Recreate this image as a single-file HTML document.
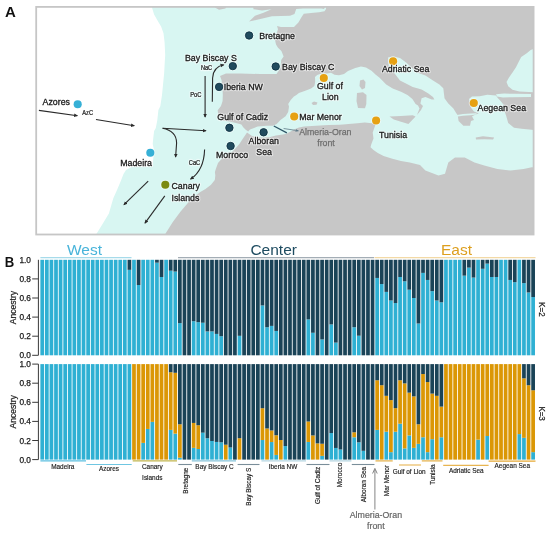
<!DOCTYPE html>
<html><head><meta charset="utf-8"><style>
html,body{margin:0;padding:0;background:#fff;width:550px;height:533px;overflow:hidden}
svg{display:block;font-family:"Liberation Sans", sans-serif;will-change:transform}
</style></head><body>
<svg width="550" height="533" viewBox="0 0 550 533">
<defs>
<marker id="ah" markerWidth="6" markerHeight="6" refX="3.2" refY="3" orient="auto" markerUnits="userSpaceOnUse"><path d="M0,1.2 L4,3 L0,4.8 Z" fill="#2a2a2a"/></marker>
<marker id="ah2" markerWidth="6" markerHeight="6" refX="2.8" refY="3" orient="auto" markerUnits="userSpaceOnUse"><path d="M0,1.5 L3.3,3 L0,4.5 Z" fill="#5e7a88"/></marker>
</defs>
<rect width="550" height="533" fill="#fff"/>
<text x="4.9" y="17.4" font-size="15" font-weight="bold" fill="#111">A</text>
<text transform="translate(4.7 266.6) scale(0.87 1)" font-size="15.1" font-weight="bold" fill="#111">B</text>
<clipPath id="mc"><rect x="36.2" y="7" width="497.4" height="227.5"/></clipPath>
<g clip-path="url(#mc)">
<rect x="35" y="6" width="501" height="230" fill="#fff"/>
<polygon points="151.5,6 154.1,14.4 157.8,21 161.1,26.6 163.5,33.2 164.6,42.6 165.2,55 164.8,61.3 164.2,72.5 163.1,83.8 162,95 160.3,106.3 158.4,110 157.3,120.3 155.8,128 154.1,131 153.1,139.4 152.7,144.1 154,150 153.5,156 152.5,166.5 132,166.8 126,170 123.5,174 120.8,181 117,190 113.3,198.3 108.9,213.5 102.4,224.3 97,233 95,236 536,236 536,6" fill="#d8f6f2"/>
<polygon points="326,6 536,6 536,130 529.2,129.6 521.6,128.7 514,127.7 508.2,123 506.3,116.3 504.4,110.5 504.4,105.8 500.6,101 497.7,98 496,95.5 487.3,94.8 479.6,96.2 472,96.5 469,99 470,103 471,107.7 474,111.5 478.7,113.4 475.8,114.4 472,116.3 474,120 471,121 470,125.8 463.4,125.8 458.6,121 457.7,115.3 455.8,112.4 453.4,108.5 448.3,103.4 444.5,98.3 443.9,93.3 443.3,88.2 439.4,84.4 433,80.5 425.4,75.4 416.5,72.3 406.4,62.7 400,58 393,56.5 388,57.5 388.6,65.5 395,74 400,80.5 405,83 412.7,86.9 421.6,89.4 428,93.3 433,97 434.4,99.6 431.8,99.6 425.4,97 421.6,98.3 420.4,103.4 423,106 421,110 417,115 419.5,108.5 418,105.5 415.6,104 412.4,99.1 407.5,95 401,91.7 392.7,88.5 386.2,84.4 379.6,77.8 375.5,74.5 371.5,70.8 366,67.5 361,66.6 355.3,68 348,71 344,74 339,75.3 334.5,74.8 331,72.8 327,73.4 321.3,73.5 317.2,75.1 315,77 315.2,81.8 314.4,85.9 311.1,88.4 304.6,90.9 298.9,92.9 296.4,95 293.9,96.6 290.7,99.9 288.2,104 289,106.4 288.2,112 285.6,116.3 280.5,120.1 276.7,123.9 272.9,125.8 266.5,125.8 257.6,126.5 250,129.5 248.2,131.5 246,130 243.2,127.3 241.4,124.5 235,122.7 227.7,121.2 222,120.5 218.5,116 217.7,110.2 221,106 222.6,101 222.8,95 222.5,88 221.5,80 220,76 226,73.5 240,73.5 260,74 276.5,74 280.5,68 281.2,60 283.6,56.4 281.4,51 278,47.7 276,44.4 275,40 276,35 278,29.2 277,25.9 280.9,26.9 294,26.9 298.4,22.5 301.6,17 303.8,13.8 313.6,12.7 319,12.2 324.5,11.3 326,9 326,6" fill="#c7c7c7"/>
<polygon points="249.1,21.6 261.4,18.8 272,16.3 290,15.8 294.5,14 296.2,8.9 302.7,8.4 321.3,8.4 324,9 325.5,6 253,6 253.5,9.2 262,10.6 271.5,9.3 263.5,12.8 255,15.8" fill="#c7c7c7"/>
<polygon points="214,6 215,7.5 219,9.7 225.4,8.5 227,6" fill="#c7c7c7"/>
<polygon points="164,236 172.8,221.9 180.4,211.7 190,200.4 196,195.2 200.3,192.1 205.5,189 211,184.8 214.8,180 215.3,175.6 214.9,172 216,168.4 218,163.1 221.3,159.2 228,155 233,151 237,146.7 239.7,143.4 242.3,139.5 245,135.5 247,132.6 252,136 258,137.5 264,137.6 270,137 276,135.5 283,134.5 286.9,133.4 290.7,131.5 294.5,129.3 299,127.5 304,126.5 312,126 320,125.6 328.6,125 340,124.7 348.7,123.9 357.5,123.2 364.7,122.5 372,123.2 375.6,124.6 374.2,128.3 372.7,132.6 373.5,138.5 371.3,144.3 370.5,147.2 373.5,150 377.8,153 383.6,155.9 392.4,158.8 401,161 409.8,162.5 420,165 425.4,170.5 438.5,175.4 445,173.8 448.3,162.4 455,157.4 464.7,157.4 474.5,162.4 484.3,165.6 497.4,169 510.5,170.5 523.6,169 531.8,167.3 536,167 536,236" fill="#c7c7c7"/>
<polygon points="536,48 530.7,50 526.4,53.5 521.2,56.9 518.6,62.1 516,67.3 512.5,72.5 509,77.6 506.5,82 508.2,86.3 512.5,89.7 519.4,91.5 536,92.3" fill="#d8f6f2"/>
<polygon points="496,94.2 504,93.6 515,93.8 531,94 531,97 512,97.2 503,97.5 497,96.5" fill="#d8f6f2"/>
<polygon points="455.5,115.2 463,114 471,113.6 476.5,113.2 476.5,114.6 470,115.3 463,115.8 456,116.8" fill="#d8f6f2"/>
<polygon points="360,80.5 363.5,79.5 365.5,82 365,88 362,89.5 359.5,86" fill="#c7c7c7"/>
<polygon points="357,93 363,92.2 366.5,95 366.3,104 365,108.3 358,108 356.5,101" fill="#c7c7c7"/>
<polygon points="389.5,116.6 401,116 412.7,115.2 415.6,116.6 411.3,121 408.4,123.9 401,121.7 393.8,119.5" fill="#c7c7c7"/>
<polygon points="311.5,103 314,101.5 317.5,102.5 316.5,104.8 313,105" fill="#c7c7c7"/>
<polygon points="475.7,137.5 483,136.3 494.2,137.5 493,139.6 484,139.2 476,139.5" fill="#c7c7c7"/>
</g>
<rect x="36.2" y="6.9" width="497.4" height="227.6" fill="none" stroke="#c6c6c6" stroke-width="1.8"/>
<g stroke="#2a2a2a" stroke-width="1.1" fill="none">
<line x1="38.9" y1="110.4" x2="77.3" y2="115.7" marker-end="url(#ah)"/>
<line x1="96" y1="119.5" x2="134.2" y2="125.7" marker-end="url(#ah)"/>
<line x1="162.6" y1="128.2" x2="205.9" y2="130.8" marker-end="url(#ah)"/>
<line x1="148.2" y1="181.2" x2="124" y2="204.6" marker-end="url(#ah)"/>
<line x1="164.8" y1="195.9" x2="145" y2="223.1" marker-end="url(#ah)"/>
<line x1="205.1" y1="76" x2="205.1" y2="117" marker-end="url(#ah)"/>
<path d="M212.3,101.7 L212.6,78 Q213.2,67 223.7,64.8" marker-end="url(#ah)"/>
<path d="M162.6,128.2 Q176.6,131 176.6,143 L175.6,157" marker-end="url(#ah)"/>
<path d="M204.6,149.4 Q204,170 190.6,179.1" marker-end="url(#ah)"/>
</g>
<line x1="273.8" y1="126" x2="286.9" y2="132.9" stroke="#2e5566" stroke-width="1.3"/>
<line x1="283.6" y1="128.5" x2="298.4" y2="130.8" stroke="#5e7a88" stroke-width="0.8" marker-end="url(#ah2)"/>
<circle cx="77.7" cy="104.2" r="5.1" fill="#fff" fill-opacity="0.45"/>
<circle cx="77.7" cy="104.2" r="4.05" fill="#36b0d6"/>
<circle cx="150.3" cy="152.7" r="5.1" fill="#fff" fill-opacity="0.45"/>
<circle cx="150.3" cy="152.7" r="4.05" fill="#36b0d6"/>
<circle cx="165.3" cy="184.8" r="5.1" fill="#fff" fill-opacity="0.45"/>
<circle cx="165.3" cy="184.8" r="4.05" fill="#7c8a12"/>
<circle cx="249.1" cy="35.5" r="5.1" fill="#fff" fill-opacity="0.45"/>
<circle cx="249.1" cy="35.5" r="3.7" fill="#214b5e" stroke="#0f3344" stroke-width="0.9"/>
<circle cx="232.8" cy="66.1" r="5.1" fill="#fff" fill-opacity="0.45"/>
<circle cx="232.8" cy="66.1" r="3.7" fill="#214b5e" stroke="#0f3344" stroke-width="0.9"/>
<circle cx="275.7" cy="66.5" r="5.1" fill="#fff" fill-opacity="0.45"/>
<circle cx="275.7" cy="66.5" r="3.7" fill="#214b5e" stroke="#0f3344" stroke-width="0.9"/>
<circle cx="219.1" cy="86.9" r="5.1" fill="#fff" fill-opacity="0.45"/>
<circle cx="219.1" cy="86.9" r="3.7" fill="#214b5e" stroke="#0f3344" stroke-width="0.9"/>
<circle cx="229.4" cy="127.8" r="5.1" fill="#fff" fill-opacity="0.45"/>
<circle cx="229.4" cy="127.8" r="3.7" fill="#214b5e" stroke="#0f3344" stroke-width="0.9"/>
<circle cx="230.6" cy="146.0" r="5.1" fill="#fff" fill-opacity="0.45"/>
<circle cx="230.6" cy="146.0" r="3.7" fill="#214b5e" stroke="#0f3344" stroke-width="0.9"/>
<circle cx="263.6" cy="132.3" r="5.1" fill="#fff" fill-opacity="0.45"/>
<circle cx="263.6" cy="132.3" r="3.7" fill="#214b5e" stroke="#0f3344" stroke-width="0.9"/>
<circle cx="294.2" cy="116.5" r="5.1" fill="#fff" fill-opacity="0.45"/>
<circle cx="294.2" cy="116.5" r="4.05" fill="#e6a112"/>
<circle cx="323.8" cy="78.0" r="5.1" fill="#fff" fill-opacity="0.45"/>
<circle cx="323.8" cy="78.0" r="4.05" fill="#e6a112"/>
<circle cx="393.1" cy="61.3" r="5.1" fill="#fff" fill-opacity="0.45"/>
<circle cx="393.1" cy="61.3" r="4.05" fill="#e6a112"/>
<circle cx="376.1" cy="120.5" r="5.1" fill="#fff" fill-opacity="0.45"/>
<circle cx="376.1" cy="120.5" r="4.05" fill="#e6a112"/>
<circle cx="473.8" cy="103.0" r="5.1" fill="#fff" fill-opacity="0.45"/>
<circle cx="473.8" cy="103.0" r="4.05" fill="#e6a112"/>
<text x="42.6" y="104.9" font-size="8.8" fill="none" stroke="#fff" stroke-opacity="0.5" stroke-linejoin="round" stroke-width="2.6">Azores</text>
<text x="42.6" y="104.9" font-size="8.8" fill="#1a1a1a" stroke="#1a1a1a" stroke-width="0.3">Azores</text>
<text x="82.3" y="115.2" font-size="6.5" textLength="10.8" lengthAdjust="spacingAndGlyphs" fill="none" stroke="#fff" stroke-opacity="0.5" stroke-linejoin="round" stroke-width="2.6">AzC</text>
<text x="82.3" y="115.2" font-size="6.5" textLength="10.8" lengthAdjust="spacingAndGlyphs" fill="#1a1a1a" stroke="#1a1a1a" stroke-width="0.22">AzC</text>
<text x="120.2" y="165.8" font-size="8.8" fill="none" stroke="#fff" stroke-opacity="0.5" stroke-linejoin="round" stroke-width="2.6">Madeira</text>
<text x="120.2" y="165.8" font-size="8.8" fill="#1a1a1a" stroke="#1a1a1a" stroke-width="0.3">Madeira</text>
<text x="171.5" y="188.8" font-size="8.8" fill="none" stroke="#fff" stroke-opacity="0.5" stroke-linejoin="round" stroke-width="2.6">Canary</text>
<text x="171.5" y="188.8" font-size="8.8" fill="#1a1a1a" stroke="#1a1a1a" stroke-width="0.3">Canary</text>
<text x="171.5" y="201.0" font-size="8.8" fill="none" stroke="#fff" stroke-opacity="0.5" stroke-linejoin="round" stroke-width="2.6">Islands</text>
<text x="171.5" y="201.0" font-size="8.8" fill="#1a1a1a" stroke="#1a1a1a" stroke-width="0.3">Islands</text>
<text x="188.8" y="164.6" font-size="6.5" textLength="11.4" lengthAdjust="spacingAndGlyphs" fill="none" stroke="#fff" stroke-opacity="0.5" stroke-linejoin="round" stroke-width="2.6">CaC</text>
<text x="188.8" y="164.6" font-size="6.5" textLength="11.4" lengthAdjust="spacingAndGlyphs" fill="#1a1a1a" stroke="#1a1a1a" stroke-width="0.22">CaC</text>
<text x="185.0" y="61.0" font-size="8.8" fill="none" stroke="#fff" stroke-opacity="0.5" stroke-linejoin="round" stroke-width="2.6">Bay Biscay S</text>
<text x="185.0" y="61.0" font-size="8.8" fill="#1a1a1a" stroke="#1a1a1a" stroke-width="0.3">Bay Biscay S</text>
<text x="200.9" y="70.1" font-size="6.5" textLength="11.3" lengthAdjust="spacingAndGlyphs" fill="none" stroke="#fff" stroke-opacity="0.5" stroke-linejoin="round" stroke-width="2.6">NaC</text>
<text x="200.9" y="70.1" font-size="6.5" textLength="11.3" lengthAdjust="spacingAndGlyphs" fill="#1a1a1a" stroke="#1a1a1a" stroke-width="0.22">NaC</text>
<text x="190.2" y="97.2" font-size="6.5" textLength="11.3" lengthAdjust="spacingAndGlyphs" fill="none" stroke="#fff" stroke-opacity="0.5" stroke-linejoin="round" stroke-width="2.6">PoC</text>
<text x="190.2" y="97.2" font-size="6.5" textLength="11.3" lengthAdjust="spacingAndGlyphs" fill="#1a1a1a" stroke="#1a1a1a" stroke-width="0.22">PoC</text>
<text x="223.7" y="90.2" font-size="8.8" fill="none" stroke="#fff" stroke-opacity="0.5" stroke-linejoin="round" stroke-width="2.6">Iberia NW</text>
<text x="223.7" y="90.2" font-size="8.8" fill="#1a1a1a" stroke="#1a1a1a" stroke-width="0.3">Iberia NW</text>
<text x="217.3" y="119.5" font-size="8.8" fill="none" stroke="#fff" stroke-opacity="0.5" stroke-linejoin="round" stroke-width="2.6">Gulf of Cadiz</text>
<text x="217.3" y="119.5" font-size="8.8" fill="#1a1a1a" stroke="#1a1a1a" stroke-width="0.3">Gulf of Cadiz</text>
<text x="216.0" y="157.7" font-size="8.8" fill="none" stroke="#fff" stroke-opacity="0.5" stroke-linejoin="round" stroke-width="2.6">Morroco</text>
<text x="216.0" y="157.7" font-size="8.8" fill="#1a1a1a" stroke="#1a1a1a" stroke-width="0.3">Morroco</text>
<text x="248.6" y="143.7" font-size="8.8" fill="none" stroke="#fff" stroke-opacity="0.5" stroke-linejoin="round" stroke-width="2.6">Alboran</text>
<text x="248.6" y="143.7" font-size="8.8" fill="#1a1a1a" stroke="#1a1a1a" stroke-width="0.3">Alboran</text>
<text x="256.3" y="155.2" font-size="8.8" fill="none" stroke="#fff" stroke-opacity="0.5" stroke-linejoin="round" stroke-width="2.6">Sea</text>
<text x="256.3" y="155.2" font-size="8.8" fill="#1a1a1a" stroke="#1a1a1a" stroke-width="0.3">Sea</text>
<text x="259.3" y="38.8" font-size="8.8" fill="none" stroke="#fff" stroke-opacity="0.5" stroke-linejoin="round" stroke-width="2.6">Bretagne</text>
<text x="259.3" y="38.8" font-size="8.8" fill="#1a1a1a" stroke="#1a1a1a" stroke-width="0.3">Bretagne</text>
<text x="282.1" y="69.9" font-size="8.8" fill="none" stroke="#fff" stroke-opacity="0.5" stroke-linejoin="round" stroke-width="2.6">Bay Biscay C</text>
<text x="282.1" y="69.9" font-size="8.8" fill="#1a1a1a" stroke="#1a1a1a" stroke-width="0.3">Bay Biscay C</text>
<text x="317.0" y="89.2" font-size="8.8" fill="none" stroke="#fff" stroke-opacity="0.5" stroke-linejoin="round" stroke-width="2.6">Gulf of</text>
<text x="317.0" y="89.2" font-size="8.8" fill="#1a1a1a" stroke="#1a1a1a" stroke-width="0.3">Gulf of</text>
<text x="322.0" y="99.9" font-size="8.8" fill="none" stroke="#fff" stroke-opacity="0.5" stroke-linejoin="round" stroke-width="2.6">Lion</text>
<text x="322.0" y="99.9" font-size="8.8" fill="#1a1a1a" stroke="#1a1a1a" stroke-width="0.3">Lion</text>
<text x="299.2" y="119.8" font-size="8.8" fill="none" stroke="#fff" stroke-opacity="0.5" stroke-linejoin="round" stroke-width="2.6">Mar Menor</text>
<text x="299.2" y="119.8" font-size="8.8" fill="#1a1a1a" stroke="#1a1a1a" stroke-width="0.3">Mar Menor</text>
<text x="381.9" y="71.9" font-size="8.8" fill="none" stroke="#fff" stroke-opacity="0.5" stroke-linejoin="round" stroke-width="2.6">Adriatic Sea</text>
<text x="381.9" y="71.9" font-size="8.8" fill="#1a1a1a" stroke="#1a1a1a" stroke-width="0.3">Adriatic Sea</text>
<text x="379.0" y="137.8" font-size="8.8" fill="none" stroke="#fff" stroke-opacity="0.5" stroke-linejoin="round" stroke-width="2.6">Tunisia</text>
<text x="379.0" y="137.8" font-size="8.8" fill="#1a1a1a" stroke="#1a1a1a" stroke-width="0.3">Tunisia</text>
<text x="477.6" y="110.6" font-size="8.8" fill="none" stroke="#fff" stroke-opacity="0.5" stroke-linejoin="round" stroke-width="2.6">Aegean Sea</text>
<text x="477.6" y="110.6" font-size="8.8" fill="#1a1a1a" stroke="#1a1a1a" stroke-width="0.3">Aegean Sea</text>
<text x="299.2" y="134.6" font-size="8.8" fill="#6e6e6e" stroke="#6e6e6e" stroke-width="0.25">Almeria-Oran</text>
<text x="326" y="145.5" text-anchor="middle" font-size="8.8" fill="#6e6e6e" stroke="#6e6e6e" stroke-width="0.25">front</text>
<text x="84.5" y="254.6" text-anchor="middle" font-size="15.5" fill="#48b4da">West</text>
<text x="273.7" y="254.6" text-anchor="middle" font-size="15.5" fill="#1d4b60">Center</text>
<text x="456.5" y="254.6" text-anchor="middle" font-size="15.5" fill="#dd9f1e">East</text>
<line x1="40.4" y1="257.7" x2="131.5" y2="257.7" stroke="#a6dbea" stroke-width="1.2"/>
<line x1="178" y1="257.7" x2="374" y2="257.7" stroke="#a3adb5" stroke-width="1.2"/>
<line x1="374.5" y1="257.7" x2="535.5" y2="257.7" stroke="#f2d9a6" stroke-width="1.2"/>
<rect x="40.38" y="259.8" width="3.72" height="95.5" fill="#2fb0d3"/>
<rect x="40.38" y="364.1" width="3.72" height="95.5" fill="#2fb0d3"/>
<rect x="44.97" y="259.8" width="3.72" height="95.5" fill="#2fb0d3"/>
<rect x="44.97" y="364.1" width="3.72" height="95.5" fill="#2fb0d3"/>
<rect x="49.56" y="259.8" width="3.72" height="95.5" fill="#2fb0d3"/>
<rect x="49.56" y="364.1" width="3.72" height="95.5" fill="#2fb0d3"/>
<rect x="54.14" y="259.8" width="3.72" height="95.5" fill="#2fb0d3"/>
<rect x="54.14" y="364.1" width="3.72" height="95.5" fill="#2fb0d3"/>
<rect x="58.73" y="259.8" width="3.72" height="95.5" fill="#2fb0d3"/>
<rect x="58.73" y="364.1" width="3.72" height="95.5" fill="#2fb0d3"/>
<rect x="63.32" y="259.8" width="3.72" height="95.5" fill="#2fb0d3"/>
<rect x="63.32" y="364.1" width="3.72" height="95.5" fill="#2fb0d3"/>
<rect x="67.91" y="259.8" width="3.72" height="95.5" fill="#2fb0d3"/>
<rect x="67.91" y="364.1" width="3.72" height="95.5" fill="#2fb0d3"/>
<rect x="72.49" y="259.8" width="3.72" height="95.5" fill="#2fb0d3"/>
<rect x="72.49" y="364.1" width="3.72" height="95.5" fill="#2fb0d3"/>
<rect x="77.08" y="259.8" width="3.72" height="95.5" fill="#2fb0d3"/>
<rect x="77.08" y="364.1" width="3.72" height="95.5" fill="#2fb0d3"/>
<rect x="81.67" y="259.8" width="3.72" height="95.5" fill="#2fb0d3"/>
<rect x="81.67" y="364.1" width="3.72" height="95.5" fill="#2fb0d3"/>
<rect x="86.26" y="259.8" width="3.72" height="95.5" fill="#2fb0d3"/>
<rect x="86.26" y="364.1" width="3.72" height="95.5" fill="#2fb0d3"/>
<rect x="90.84" y="259.8" width="3.72" height="95.5" fill="#2fb0d3"/>
<rect x="90.84" y="364.1" width="3.72" height="95.5" fill="#2fb0d3"/>
<rect x="95.43" y="259.8" width="3.72" height="95.5" fill="#2fb0d3"/>
<rect x="95.43" y="364.1" width="3.72" height="95.5" fill="#2fb0d3"/>
<rect x="100.02" y="259.8" width="3.72" height="95.5" fill="#2fb0d3"/>
<rect x="100.02" y="364.1" width="3.72" height="95.5" fill="#2fb0d3"/>
<rect x="104.61" y="259.8" width="3.72" height="95.5" fill="#2fb0d3"/>
<rect x="104.61" y="364.1" width="3.72" height="95.5" fill="#2fb0d3"/>
<rect x="109.2" y="259.8" width="3.72" height="95.5" fill="#2fb0d3"/>
<rect x="109.2" y="364.1" width="3.72" height="95.5" fill="#2fb0d3"/>
<rect x="113.78" y="259.8" width="3.72" height="95.5" fill="#2fb0d3"/>
<rect x="113.78" y="364.1" width="3.72" height="95.5" fill="#2fb0d3"/>
<rect x="118.37" y="259.8" width="3.72" height="95.5" fill="#2fb0d3"/>
<rect x="118.37" y="364.1" width="3.72" height="95.5" fill="#2fb0d3"/>
<rect x="122.96" y="259.8" width="3.72" height="95.5" fill="#2fb0d3"/>
<rect x="122.96" y="364.1" width="3.72" height="95.5" fill="#2fb0d3"/>
<rect x="127.55" y="269.83" width="3.72" height="85.47" fill="#2fb0d3"/>
<rect x="127.55" y="259.8" width="3.72" height="10.03" fill="#1a4357"/>
<rect x="127.55" y="364.1" width="3.72" height="95.5" fill="#2fb0d3"/>
<rect x="132.13" y="259.8" width="3.72" height="95.5" fill="#2fb0d3"/>
<rect x="132.13" y="364.1" width="3.72" height="95.5" fill="#db9705"/>
<rect x="136.72" y="285.01" width="3.72" height="70.29" fill="#2fb0d3"/>
<rect x="136.72" y="259.8" width="3.72" height="25.21" fill="#1a4357"/>
<rect x="136.72" y="364.1" width="3.72" height="95.5" fill="#db9705"/>
<rect x="141.31" y="259.8" width="3.72" height="95.5" fill="#2fb0d3"/>
<rect x="141.31" y="442.89" width="3.72" height="16.71" fill="#2fb0d3"/>
<rect x="141.31" y="364.1" width="3.72" height="78.79" fill="#db9705"/>
<rect x="145.9" y="259.8" width="3.72" height="95.5" fill="#2fb0d3"/>
<rect x="145.9" y="428.94" width="3.72" height="30.66" fill="#2fb0d3"/>
<rect x="145.9" y="364.1" width="3.72" height="64.84" fill="#db9705"/>
<rect x="150.48" y="259.8" width="3.72" height="95.5" fill="#2fb0d3"/>
<rect x="150.48" y="421.88" width="3.72" height="37.72" fill="#2fb0d3"/>
<rect x="150.48" y="364.1" width="3.72" height="57.78" fill="#db9705"/>
<rect x="155.07" y="262.67" width="3.72" height="92.63" fill="#2fb0d3"/>
<rect x="155.07" y="259.8" width="3.72" height="2.86" fill="#1a4357"/>
<rect x="155.07" y="364.1" width="3.72" height="95.5" fill="#db9705"/>
<rect x="159.66" y="276.99" width="3.72" height="78.31" fill="#2fb0d3"/>
<rect x="159.66" y="259.8" width="3.72" height="17.19" fill="#1a4357"/>
<rect x="159.66" y="364.1" width="3.72" height="95.5" fill="#db9705"/>
<rect x="164.25" y="259.8" width="3.72" height="95.5" fill="#2fb0d3"/>
<rect x="164.25" y="364.1" width="3.72" height="95.5" fill="#db9705"/>
<rect x="168.84" y="270.69" width="3.72" height="84.61" fill="#2fb0d3"/>
<rect x="168.84" y="259.8" width="3.72" height="10.89" fill="#1a4357"/>
<rect x="168.84" y="429.9" width="3.72" height="29.7" fill="#2fb0d3"/>
<rect x="168.84" y="372.22" width="3.72" height="57.68" fill="#db9705"/>
<rect x="168.84" y="364.1" width="3.72" height="8.12" fill="#1a4357"/>
<rect x="173.42" y="271.55" width="3.72" height="83.75" fill="#2fb0d3"/>
<rect x="173.42" y="259.8" width="3.72" height="11.75" fill="#1a4357"/>
<rect x="173.42" y="433.62" width="3.72" height="25.98" fill="#2fb0d3"/>
<rect x="173.42" y="372.79" width="3.72" height="60.83" fill="#db9705"/>
<rect x="173.42" y="364.1" width="3.72" height="8.69" fill="#1a4357"/>
<rect x="178.01" y="323.12" width="3.72" height="32.18" fill="#2fb0d3"/>
<rect x="178.01" y="259.8" width="3.72" height="63.32" fill="#1a4357"/>
<rect x="178.01" y="457.69" width="3.72" height="1.91" fill="#2fb0d3"/>
<rect x="178.01" y="424.27" width="3.72" height="33.42" fill="#db9705"/>
<rect x="178.01" y="364.1" width="3.72" height="60.16" fill="#1a4357"/>
<rect x="182.6" y="259.8" width="3.72" height="95.5" fill="#1a4357"/>
<rect x="182.6" y="364.1" width="3.72" height="95.5" fill="#1a4357"/>
<rect x="187.19" y="259.8" width="3.72" height="95.5" fill="#1a4357"/>
<rect x="187.19" y="364.1" width="3.72" height="95.5" fill="#1a4357"/>
<rect x="191.77" y="321.21" width="3.72" height="34.09" fill="#2fb0d3"/>
<rect x="191.77" y="259.8" width="3.72" height="61.41" fill="#1a4357"/>
<rect x="191.77" y="447.85" width="3.72" height="11.75" fill="#2fb0d3"/>
<rect x="191.77" y="422.93" width="3.72" height="24.93" fill="#db9705"/>
<rect x="191.77" y="364.1" width="3.72" height="58.83" fill="#1a4357"/>
<rect x="196.36" y="322.16" width="3.72" height="33.14" fill="#2fb0d3"/>
<rect x="196.36" y="259.8" width="3.72" height="62.36" fill="#1a4357"/>
<rect x="196.36" y="449" width="3.72" height="10.6" fill="#2fb0d3"/>
<rect x="196.36" y="425.22" width="3.72" height="23.78" fill="#db9705"/>
<rect x="196.36" y="364.1" width="3.72" height="61.12" fill="#1a4357"/>
<rect x="200.95" y="322.73" width="3.72" height="32.57" fill="#2fb0d3"/>
<rect x="200.95" y="259.8" width="3.72" height="62.93" fill="#1a4357"/>
<rect x="200.95" y="432.67" width="3.72" height="26.93" fill="#2fb0d3"/>
<rect x="200.95" y="364.1" width="3.72" height="68.57" fill="#1a4357"/>
<rect x="205.54" y="331.43" width="3.72" height="23.88" fill="#2fb0d3"/>
<rect x="205.54" y="259.8" width="3.72" height="71.62" fill="#1a4357"/>
<rect x="205.54" y="438.21" width="3.72" height="21.39" fill="#2fb0d3"/>
<rect x="205.54" y="364.1" width="3.72" height="74.11" fill="#1a4357"/>
<rect x="210.12" y="331.43" width="3.72" height="23.88" fill="#2fb0d3"/>
<rect x="210.12" y="259.8" width="3.72" height="71.62" fill="#1a4357"/>
<rect x="210.12" y="440.98" width="3.72" height="18.62" fill="#2fb0d3"/>
<rect x="210.12" y="364.1" width="3.72" height="76.88" fill="#1a4357"/>
<rect x="214.71" y="333.91" width="3.72" height="21.39" fill="#2fb0d3"/>
<rect x="214.71" y="259.8" width="3.72" height="74.11" fill="#1a4357"/>
<rect x="214.71" y="441.93" width="3.72" height="17.67" fill="#2fb0d3"/>
<rect x="214.71" y="364.1" width="3.72" height="77.83" fill="#1a4357"/>
<rect x="219.3" y="336.2" width="3.72" height="19.1" fill="#2fb0d3"/>
<rect x="219.3" y="259.8" width="3.72" height="76.4" fill="#1a4357"/>
<rect x="219.3" y="442.31" width="3.72" height="17.29" fill="#2fb0d3"/>
<rect x="219.3" y="364.1" width="3.72" height="78.21" fill="#1a4357"/>
<rect x="223.89" y="259.8" width="3.72" height="95.5" fill="#1a4357"/>
<rect x="223.89" y="444.7" width="3.72" height="14.9" fill="#db9705"/>
<rect x="223.89" y="364.1" width="3.72" height="80.6" fill="#1a4357"/>
<rect x="228.48" y="259.8" width="3.72" height="95.5" fill="#1a4357"/>
<rect x="228.48" y="447.47" width="3.72" height="12.13" fill="#2fb0d3"/>
<rect x="228.48" y="364.1" width="3.72" height="83.37" fill="#1a4357"/>
<rect x="233.06" y="259.8" width="3.72" height="95.5" fill="#1a4357"/>
<rect x="233.06" y="364.1" width="3.72" height="95.5" fill="#1a4357"/>
<rect x="237.65" y="335.82" width="3.72" height="19.48" fill="#2fb0d3"/>
<rect x="237.65" y="259.8" width="3.72" height="76.02" fill="#1a4357"/>
<rect x="237.65" y="438.21" width="3.72" height="21.39" fill="#db9705"/>
<rect x="237.65" y="364.1" width="3.72" height="74.11" fill="#1a4357"/>
<rect x="242.24" y="259.8" width="3.72" height="95.5" fill="#1a4357"/>
<rect x="242.24" y="364.1" width="3.72" height="95.5" fill="#1a4357"/>
<rect x="246.83" y="259.8" width="3.72" height="95.5" fill="#1a4357"/>
<rect x="246.83" y="364.1" width="3.72" height="95.5" fill="#1a4357"/>
<rect x="251.41" y="259.8" width="3.72" height="95.5" fill="#1a4357"/>
<rect x="251.41" y="364.1" width="3.72" height="95.5" fill="#1a4357"/>
<rect x="256" y="259.8" width="3.72" height="95.5" fill="#1a4357"/>
<rect x="256" y="364.1" width="3.72" height="95.5" fill="#1a4357"/>
<rect x="260.59" y="305.45" width="3.72" height="49.85" fill="#2fb0d3"/>
<rect x="260.59" y="259.8" width="3.72" height="45.65" fill="#1a4357"/>
<rect x="260.59" y="440.02" width="3.72" height="19.58" fill="#2fb0d3"/>
<rect x="260.59" y="408.22" width="3.72" height="31.8" fill="#db9705"/>
<rect x="260.59" y="364.1" width="3.72" height="44.12" fill="#1a4357"/>
<rect x="265.18" y="327.22" width="3.72" height="28.08" fill="#2fb0d3"/>
<rect x="265.18" y="259.8" width="3.72" height="67.42" fill="#1a4357"/>
<rect x="265.18" y="428.47" width="3.72" height="31.13" fill="#db9705"/>
<rect x="265.18" y="364.1" width="3.72" height="64.37" fill="#1a4357"/>
<rect x="269.76" y="325.89" width="3.72" height="29.41" fill="#2fb0d3"/>
<rect x="269.76" y="259.8" width="3.72" height="66.09" fill="#1a4357"/>
<rect x="269.76" y="442.03" width="3.72" height="17.57" fill="#2fb0d3"/>
<rect x="269.76" y="430.47" width="3.72" height="11.56" fill="#db9705"/>
<rect x="269.76" y="364.1" width="3.72" height="66.37" fill="#1a4357"/>
<rect x="274.35" y="330.95" width="3.72" height="24.35" fill="#2fb0d3"/>
<rect x="274.35" y="259.8" width="3.72" height="71.15" fill="#1a4357"/>
<rect x="274.35" y="454.92" width="3.72" height="4.68" fill="#2fb0d3"/>
<rect x="274.35" y="435.25" width="3.72" height="19.67" fill="#db9705"/>
<rect x="274.35" y="364.1" width="3.72" height="71.15" fill="#1a4357"/>
<rect x="278.94" y="259.8" width="3.72" height="95.5" fill="#1a4357"/>
<rect x="278.94" y="440.02" width="3.72" height="19.58" fill="#db9705"/>
<rect x="278.94" y="364.1" width="3.72" height="75.92" fill="#1a4357"/>
<rect x="283.53" y="259.8" width="3.72" height="95.5" fill="#1a4357"/>
<rect x="283.53" y="446.04" width="3.72" height="13.56" fill="#2fb0d3"/>
<rect x="283.53" y="364.1" width="3.72" height="81.94" fill="#1a4357"/>
<rect x="288.12" y="259.8" width="3.72" height="95.5" fill="#1a4357"/>
<rect x="288.12" y="364.1" width="3.72" height="95.5" fill="#1a4357"/>
<rect x="292.7" y="259.8" width="3.72" height="95.5" fill="#1a4357"/>
<rect x="292.7" y="364.1" width="3.72" height="95.5" fill="#1a4357"/>
<rect x="297.29" y="259.8" width="3.72" height="95.5" fill="#1a4357"/>
<rect x="297.29" y="364.1" width="3.72" height="95.5" fill="#1a4357"/>
<rect x="301.88" y="259.8" width="3.72" height="95.5" fill="#1a4357"/>
<rect x="301.88" y="364.1" width="3.72" height="95.5" fill="#1a4357"/>
<rect x="306.47" y="319.39" width="3.72" height="35.91" fill="#2fb0d3"/>
<rect x="306.47" y="259.8" width="3.72" height="59.59" fill="#1a4357"/>
<rect x="306.47" y="441.93" width="3.72" height="17.67" fill="#2fb0d3"/>
<rect x="306.47" y="421.5" width="3.72" height="20.44" fill="#db9705"/>
<rect x="306.47" y="364.1" width="3.72" height="57.4" fill="#1a4357"/>
<rect x="311.05" y="332.76" width="3.72" height="22.54" fill="#2fb0d3"/>
<rect x="311.05" y="259.8" width="3.72" height="72.96" fill="#1a4357"/>
<rect x="311.05" y="435.44" width="3.72" height="24.16" fill="#db9705"/>
<rect x="311.05" y="364.1" width="3.72" height="71.34" fill="#1a4357"/>
<rect x="315.64" y="259.8" width="3.72" height="95.5" fill="#1a4357"/>
<rect x="315.64" y="443.37" width="3.72" height="16.24" fill="#db9705"/>
<rect x="315.64" y="364.1" width="3.72" height="79.27" fill="#1a4357"/>
<rect x="320.23" y="339.45" width="3.72" height="15.85" fill="#2fb0d3"/>
<rect x="320.23" y="259.8" width="3.72" height="79.65" fill="#1a4357"/>
<rect x="320.23" y="455.88" width="3.72" height="3.72" fill="#2fb0d3"/>
<rect x="320.23" y="443.75" width="3.72" height="12.13" fill="#db9705"/>
<rect x="320.23" y="364.1" width="3.72" height="79.65" fill="#1a4357"/>
<rect x="324.82" y="259.8" width="3.72" height="95.5" fill="#1a4357"/>
<rect x="324.82" y="364.1" width="3.72" height="95.5" fill="#1a4357"/>
<rect x="329.41" y="324.45" width="3.72" height="30.85" fill="#2fb0d3"/>
<rect x="329.41" y="259.8" width="3.72" height="64.65" fill="#1a4357"/>
<rect x="329.41" y="433.05" width="3.72" height="26.55" fill="#2fb0d3"/>
<rect x="329.41" y="364.1" width="3.72" height="68.95" fill="#1a4357"/>
<rect x="333.99" y="342.6" width="3.72" height="12.7" fill="#2fb0d3"/>
<rect x="333.99" y="259.8" width="3.72" height="82.8" fill="#1a4357"/>
<rect x="333.99" y="447.95" width="3.72" height="11.65" fill="#2fb0d3"/>
<rect x="333.99" y="364.1" width="3.72" height="83.85" fill="#1a4357"/>
<rect x="338.58" y="259.8" width="3.72" height="95.5" fill="#1a4357"/>
<rect x="338.58" y="449.48" width="3.72" height="10.12" fill="#2fb0d3"/>
<rect x="338.58" y="364.1" width="3.72" height="85.38" fill="#1a4357"/>
<rect x="343.17" y="259.8" width="3.72" height="95.5" fill="#1a4357"/>
<rect x="343.17" y="364.1" width="3.72" height="95.5" fill="#1a4357"/>
<rect x="347.76" y="259.8" width="3.72" height="95.5" fill="#1a4357"/>
<rect x="347.76" y="364.1" width="3.72" height="95.5" fill="#1a4357"/>
<rect x="352.34" y="327.22" width="3.72" height="28.08" fill="#2fb0d3"/>
<rect x="352.34" y="259.8" width="3.72" height="67.42" fill="#1a4357"/>
<rect x="352.34" y="437.25" width="3.72" height="22.35" fill="#2fb0d3"/>
<rect x="352.34" y="432.29" width="3.72" height="4.97" fill="#db9705"/>
<rect x="352.34" y="364.1" width="3.72" height="68.19" fill="#1a4357"/>
<rect x="356.93" y="335.72" width="3.72" height="19.58" fill="#2fb0d3"/>
<rect x="356.93" y="259.8" width="3.72" height="75.92" fill="#1a4357"/>
<rect x="356.93" y="442.31" width="3.72" height="17.29" fill="#2fb0d3"/>
<rect x="356.93" y="364.1" width="3.72" height="78.21" fill="#1a4357"/>
<rect x="361.52" y="259.8" width="3.72" height="95.5" fill="#1a4357"/>
<rect x="361.52" y="450.81" width="3.72" height="8.79" fill="#2fb0d3"/>
<rect x="361.52" y="364.1" width="3.72" height="86.71" fill="#1a4357"/>
<rect x="366.11" y="259.8" width="3.72" height="95.5" fill="#1a4357"/>
<rect x="366.11" y="364.1" width="3.72" height="95.5" fill="#1a4357"/>
<rect x="370.69" y="259.8" width="3.72" height="95.5" fill="#1a4357"/>
<rect x="370.69" y="364.1" width="3.72" height="95.5" fill="#1a4357"/>
<rect x="375.28" y="277.94" width="3.72" height="77.36" fill="#2fb0d3"/>
<rect x="375.28" y="259.8" width="3.72" height="18.14" fill="#1a4357"/>
<rect x="375.28" y="429.9" width="3.72" height="29.7" fill="#2fb0d3"/>
<rect x="375.28" y="380.24" width="3.72" height="49.66" fill="#db9705"/>
<rect x="375.28" y="364.1" width="3.72" height="16.14" fill="#1a4357"/>
<rect x="379.87" y="284.06" width="3.72" height="71.24" fill="#2fb0d3"/>
<rect x="379.87" y="259.8" width="3.72" height="24.26" fill="#1a4357"/>
<rect x="379.87" y="385.21" width="3.72" height="74.39" fill="#db9705"/>
<rect x="379.87" y="364.1" width="3.72" height="21.11" fill="#1a4357"/>
<rect x="384.46" y="291.89" width="3.72" height="63.41" fill="#2fb0d3"/>
<rect x="384.46" y="259.8" width="3.72" height="32.09" fill="#1a4357"/>
<rect x="384.46" y="431.71" width="3.72" height="27.89" fill="#2fb0d3"/>
<rect x="384.46" y="395.81" width="3.72" height="35.91" fill="#db9705"/>
<rect x="384.46" y="364.1" width="3.72" height="31.71" fill="#1a4357"/>
<rect x="389.05" y="300.48" width="3.72" height="54.82" fill="#2fb0d3"/>
<rect x="389.05" y="259.8" width="3.72" height="40.68" fill="#1a4357"/>
<rect x="389.05" y="452.15" width="3.72" height="7.45" fill="#2fb0d3"/>
<rect x="389.05" y="400.1" width="3.72" height="52.05" fill="#db9705"/>
<rect x="389.05" y="364.1" width="3.72" height="36" fill="#1a4357"/>
<rect x="393.63" y="303.06" width="3.72" height="52.24" fill="#2fb0d3"/>
<rect x="393.63" y="259.8" width="3.72" height="43.26" fill="#1a4357"/>
<rect x="393.63" y="431.71" width="3.72" height="27.89" fill="#2fb0d3"/>
<rect x="393.63" y="408.13" width="3.72" height="23.59" fill="#db9705"/>
<rect x="393.63" y="364.1" width="3.72" height="44.03" fill="#1a4357"/>
<rect x="398.22" y="276.99" width="3.72" height="78.31" fill="#2fb0d3"/>
<rect x="398.22" y="259.8" width="3.72" height="17.19" fill="#1a4357"/>
<rect x="398.22" y="423.69" width="3.72" height="35.91" fill="#2fb0d3"/>
<rect x="398.22" y="380.24" width="3.72" height="43.45" fill="#db9705"/>
<rect x="398.22" y="364.1" width="3.72" height="16.14" fill="#1a4357"/>
<rect x="402.81" y="281.29" width="3.72" height="74.01" fill="#2fb0d3"/>
<rect x="402.81" y="259.8" width="3.72" height="21.49" fill="#1a4357"/>
<rect x="402.81" y="448.43" width="3.72" height="11.17" fill="#2fb0d3"/>
<rect x="402.81" y="383.39" width="3.72" height="65.04" fill="#db9705"/>
<rect x="402.81" y="364.1" width="3.72" height="19.29" fill="#1a4357"/>
<rect x="407.4" y="289.69" width="3.72" height="65.61" fill="#2fb0d3"/>
<rect x="407.4" y="259.8" width="3.72" height="29.89" fill="#1a4357"/>
<rect x="407.4" y="435.44" width="3.72" height="24.16" fill="#2fb0d3"/>
<rect x="407.4" y="392.65" width="3.72" height="42.78" fill="#db9705"/>
<rect x="407.4" y="364.1" width="3.72" height="28.55" fill="#1a4357"/>
<rect x="411.98" y="298" width="3.72" height="57.3" fill="#2fb0d3"/>
<rect x="411.98" y="259.8" width="3.72" height="38.2" fill="#1a4357"/>
<rect x="411.98" y="447.85" width="3.72" height="11.75" fill="#2fb0d3"/>
<rect x="411.98" y="396.38" width="3.72" height="51.47" fill="#db9705"/>
<rect x="411.98" y="364.1" width="3.72" height="32.28" fill="#1a4357"/>
<rect x="416.57" y="323.5" width="3.72" height="31.8" fill="#2fb0d3"/>
<rect x="416.57" y="259.8" width="3.72" height="63.7" fill="#1a4357"/>
<rect x="416.57" y="443.84" width="3.72" height="15.76" fill="#2fb0d3"/>
<rect x="416.57" y="424.27" width="3.72" height="19.58" fill="#db9705"/>
<rect x="416.57" y="364.1" width="3.72" height="60.16" fill="#1a4357"/>
<rect x="421.16" y="272.88" width="3.72" height="82.42" fill="#2fb0d3"/>
<rect x="421.16" y="259.8" width="3.72" height="13.08" fill="#1a4357"/>
<rect x="421.16" y="437.25" width="3.72" height="22.35" fill="#2fb0d3"/>
<rect x="421.16" y="374.03" width="3.72" height="63.22" fill="#db9705"/>
<rect x="421.16" y="364.1" width="3.72" height="9.93" fill="#1a4357"/>
<rect x="425.75" y="279.95" width="3.72" height="75.35" fill="#2fb0d3"/>
<rect x="425.75" y="259.8" width="3.72" height="20.15" fill="#1a4357"/>
<rect x="425.75" y="452.15" width="3.72" height="7.45" fill="#2fb0d3"/>
<rect x="425.75" y="382.05" width="3.72" height="70.1" fill="#db9705"/>
<rect x="425.75" y="364.1" width="3.72" height="17.95" fill="#1a4357"/>
<rect x="430.33" y="291.12" width="3.72" height="64.18" fill="#2fb0d3"/>
<rect x="430.33" y="259.8" width="3.72" height="31.32" fill="#1a4357"/>
<rect x="430.33" y="439.16" width="3.72" height="20.44" fill="#2fb0d3"/>
<rect x="430.33" y="393.61" width="3.72" height="45.55" fill="#db9705"/>
<rect x="430.33" y="364.1" width="3.72" height="29.51" fill="#1a4357"/>
<rect x="434.92" y="300.48" width="3.72" height="54.82" fill="#2fb0d3"/>
<rect x="434.92" y="259.8" width="3.72" height="40.68" fill="#1a4357"/>
<rect x="434.92" y="395.81" width="3.72" height="63.79" fill="#db9705"/>
<rect x="434.92" y="364.1" width="3.72" height="31.71" fill="#1a4357"/>
<rect x="439.51" y="302.3" width="3.72" height="53" fill="#2fb0d3"/>
<rect x="439.51" y="259.8" width="3.72" height="42.5" fill="#1a4357"/>
<rect x="439.51" y="437.25" width="3.72" height="22.35" fill="#2fb0d3"/>
<rect x="439.51" y="406.6" width="3.72" height="30.66" fill="#db9705"/>
<rect x="439.51" y="364.1" width="3.72" height="42.5" fill="#1a4357"/>
<rect x="444.1" y="259.8" width="3.72" height="95.5" fill="#2fb0d3"/>
<rect x="444.1" y="364.1" width="3.72" height="95.5" fill="#db9705"/>
<rect x="448.69" y="259.8" width="3.72" height="95.5" fill="#2fb0d3"/>
<rect x="448.69" y="364.1" width="3.72" height="95.5" fill="#db9705"/>
<rect x="453.27" y="259.8" width="3.72" height="95.5" fill="#2fb0d3"/>
<rect x="453.27" y="364.1" width="3.72" height="95.5" fill="#db9705"/>
<rect x="457.86" y="259.8" width="3.72" height="95.5" fill="#2fb0d3"/>
<rect x="457.86" y="364.1" width="3.72" height="95.5" fill="#db9705"/>
<rect x="462.45" y="275.65" width="3.72" height="79.65" fill="#2fb0d3"/>
<rect x="462.45" y="259.8" width="3.72" height="15.85" fill="#1a4357"/>
<rect x="462.45" y="364.1" width="3.72" height="95.5" fill="#db9705"/>
<rect x="467.04" y="267.63" width="3.72" height="87.67" fill="#2fb0d3"/>
<rect x="467.04" y="259.8" width="3.72" height="7.83" fill="#1a4357"/>
<rect x="467.04" y="364.1" width="3.72" height="95.5" fill="#db9705"/>
<rect x="471.62" y="277.56" width="3.72" height="77.74" fill="#2fb0d3"/>
<rect x="471.62" y="259.8" width="3.72" height="17.76" fill="#1a4357"/>
<rect x="471.62" y="364.1" width="3.72" height="95.5" fill="#db9705"/>
<rect x="476.21" y="259.8" width="3.72" height="95.5" fill="#2fb0d3"/>
<rect x="476.21" y="439.64" width="3.72" height="19.96" fill="#2fb0d3"/>
<rect x="476.21" y="364.1" width="3.72" height="75.54" fill="#db9705"/>
<rect x="480.8" y="268.78" width="3.72" height="86.52" fill="#2fb0d3"/>
<rect x="480.8" y="259.8" width="3.72" height="8.98" fill="#1a4357"/>
<rect x="480.8" y="364.1" width="3.72" height="95.5" fill="#db9705"/>
<rect x="485.39" y="263.62" width="3.72" height="91.68" fill="#2fb0d3"/>
<rect x="485.39" y="259.8" width="3.72" height="3.82" fill="#1a4357"/>
<rect x="485.39" y="436.01" width="3.72" height="23.59" fill="#2fb0d3"/>
<rect x="485.39" y="364.1" width="3.72" height="71.91" fill="#db9705"/>
<rect x="489.97" y="276.99" width="3.72" height="78.31" fill="#2fb0d3"/>
<rect x="489.97" y="259.8" width="3.72" height="17.19" fill="#1a4357"/>
<rect x="489.97" y="364.1" width="3.72" height="95.5" fill="#db9705"/>
<rect x="494.56" y="276.99" width="3.72" height="78.31" fill="#2fb0d3"/>
<rect x="494.56" y="259.8" width="3.72" height="17.19" fill="#1a4357"/>
<rect x="494.56" y="364.1" width="3.72" height="95.5" fill="#db9705"/>
<rect x="499.15" y="259.8" width="3.72" height="95.5" fill="#2fb0d3"/>
<rect x="499.15" y="364.1" width="3.72" height="95.5" fill="#db9705"/>
<rect x="503.74" y="259.8" width="3.72" height="95.5" fill="#2fb0d3"/>
<rect x="503.74" y="364.1" width="3.72" height="95.5" fill="#db9705"/>
<rect x="508.33" y="279.95" width="3.72" height="75.35" fill="#2fb0d3"/>
<rect x="508.33" y="259.8" width="3.72" height="20.15" fill="#1a4357"/>
<rect x="508.33" y="364.1" width="3.72" height="95.5" fill="#db9705"/>
<rect x="512.91" y="282.15" width="3.72" height="73.15" fill="#2fb0d3"/>
<rect x="512.91" y="259.8" width="3.72" height="22.35" fill="#1a4357"/>
<rect x="512.91" y="364.1" width="3.72" height="95.5" fill="#db9705"/>
<rect x="517.5" y="259.8" width="3.72" height="95.5" fill="#2fb0d3"/>
<rect x="517.5" y="434.1" width="3.72" height="25.5" fill="#2fb0d3"/>
<rect x="517.5" y="364.1" width="3.72" height="70" fill="#db9705"/>
<rect x="522.09" y="283.1" width="3.72" height="72.2" fill="#2fb0d3"/>
<rect x="522.09" y="259.8" width="3.72" height="23.3" fill="#1a4357"/>
<rect x="522.09" y="437.83" width="3.72" height="21.77" fill="#2fb0d3"/>
<rect x="522.09" y="378.33" width="3.72" height="59.5" fill="#db9705"/>
<rect x="522.09" y="364.1" width="3.72" height="14.23" fill="#1a4357"/>
<rect x="526.68" y="292.46" width="3.72" height="62.84" fill="#2fb0d3"/>
<rect x="526.68" y="259.8" width="3.72" height="32.66" fill="#1a4357"/>
<rect x="526.68" y="385.21" width="3.72" height="74.39" fill="#db9705"/>
<rect x="526.68" y="364.1" width="3.72" height="21.11" fill="#1a4357"/>
<rect x="531.26" y="297.05" width="3.72" height="58.25" fill="#2fb0d3"/>
<rect x="531.26" y="259.8" width="3.72" height="37.25" fill="#1a4357"/>
<rect x="531.26" y="452.15" width="3.72" height="7.45" fill="#2fb0d3"/>
<rect x="531.26" y="390.27" width="3.72" height="61.88" fill="#db9705"/>
<rect x="531.26" y="364.1" width="3.72" height="26.17" fill="#1a4357"/>
<line x1="38.4" y1="259.8" x2="38.4" y2="355.3" stroke="#3a3a3a" stroke-width="1"/>
<line x1="32.2" y1="355.3" x2="38.4" y2="355.3" stroke="#3a3a3a" stroke-width="1"/>
<text x="31.0" y="358.35" text-anchor="end" font-size="8.3" fill="#1a1a1a" stroke="#1a1a1a" stroke-width="0.25">0.0</text>
<line x1="32.2" y1="336.2" x2="38.4" y2="336.2" stroke="#3a3a3a" stroke-width="1"/>
<text x="31.0" y="339.25" text-anchor="end" font-size="8.3" fill="#1a1a1a" stroke="#1a1a1a" stroke-width="0.25">0.2</text>
<line x1="32.2" y1="317.1" x2="38.4" y2="317.1" stroke="#3a3a3a" stroke-width="1"/>
<text x="31.0" y="320.15" text-anchor="end" font-size="8.3" fill="#1a1a1a" stroke="#1a1a1a" stroke-width="0.25">0.4</text>
<line x1="32.2" y1="298" x2="38.4" y2="298" stroke="#3a3a3a" stroke-width="1"/>
<text x="31.0" y="301.05" text-anchor="end" font-size="8.3" fill="#1a1a1a" stroke="#1a1a1a" stroke-width="0.25">0.6</text>
<line x1="32.2" y1="278.9" x2="38.4" y2="278.9" stroke="#3a3a3a" stroke-width="1"/>
<text x="31.0" y="281.95" text-anchor="end" font-size="8.3" fill="#1a1a1a" stroke="#1a1a1a" stroke-width="0.25">0.8</text>
<text x="31.0" y="262.85" text-anchor="end" font-size="8.3" fill="#1a1a1a" stroke="#1a1a1a" stroke-width="0.25">1.0</text>
<text transform="translate(16.3 307.55) rotate(-90)" text-anchor="middle" font-size="8.6" fill="#1a1a1a" stroke="#1a1a1a" stroke-width="0.2">Ancestry</text>
<line x1="38.4" y1="364.1" x2="38.4" y2="459.6" stroke="#3a3a3a" stroke-width="1"/>
<line x1="32.2" y1="459.6" x2="38.4" y2="459.6" stroke="#3a3a3a" stroke-width="1"/>
<text x="31.0" y="462.65" text-anchor="end" font-size="8.3" fill="#1a1a1a" stroke="#1a1a1a" stroke-width="0.25">0.0</text>
<line x1="32.2" y1="440.5" x2="38.4" y2="440.5" stroke="#3a3a3a" stroke-width="1"/>
<text x="31.0" y="443.55" text-anchor="end" font-size="8.3" fill="#1a1a1a" stroke="#1a1a1a" stroke-width="0.25">0.2</text>
<line x1="32.2" y1="421.4" x2="38.4" y2="421.4" stroke="#3a3a3a" stroke-width="1"/>
<text x="31.0" y="424.45" text-anchor="end" font-size="8.3" fill="#1a1a1a" stroke="#1a1a1a" stroke-width="0.25">0.4</text>
<line x1="32.2" y1="402.3" x2="38.4" y2="402.3" stroke="#3a3a3a" stroke-width="1"/>
<text x="31.0" y="405.35" text-anchor="end" font-size="8.3" fill="#1a1a1a" stroke="#1a1a1a" stroke-width="0.25">0.6</text>
<line x1="32.2" y1="383.2" x2="38.4" y2="383.2" stroke="#3a3a3a" stroke-width="1"/>
<text x="31.0" y="386.25" text-anchor="end" font-size="8.3" fill="#1a1a1a" stroke="#1a1a1a" stroke-width="0.25">0.8</text>
<line x1="32.2" y1="364.1" x2="38.4" y2="364.1" stroke="#3a3a3a" stroke-width="1"/>
<text x="31.0" y="367.15" text-anchor="end" font-size="8.3" fill="#1a1a1a" stroke="#1a1a1a" stroke-width="0.25">1.0</text>
<text transform="translate(16.3 411.85) rotate(-90)" text-anchor="middle" font-size="8.6" fill="#1a1a1a" stroke="#1a1a1a" stroke-width="0.2">Ancestry</text>
<text transform="translate(539.3 309.4) rotate(90)" text-anchor="middle" font-size="9.6" textLength="14.7" lengthAdjust="spacingAndGlyphs" fill="#1a1a1a" stroke="#1a1a1a" stroke-width="0.2">K=2</text>
<text transform="translate(539.3 413.6) rotate(90)" text-anchor="middle" font-size="9.6" textLength="14.4" lengthAdjust="spacingAndGlyphs" fill="#1a1a1a" stroke="#1a1a1a" stroke-width="0.2">K=3</text>
<line x1="40.4" y1="460.9" x2="86.0" y2="460.9" stroke="#5cbfe0" stroke-width="1.3"/>
<line x1="86.4" y1="464.5" x2="131.7" y2="464.5" stroke="#6fc6e2" stroke-width="1.1"/>
<line x1="132.7" y1="460.9" x2="177.0" y2="460.9" stroke="#c2b54e" stroke-width="1.2"/>
<line x1="178.3" y1="464.5" x2="191.8" y2="464.5" stroke="#7a8e9a" stroke-width="1.1"/>
<line x1="191.8" y1="460.9" x2="236.0" y2="460.9" stroke="#86c3da" stroke-width="1.2"/>
<line x1="237.6" y1="464.5" x2="259.5" y2="464.5" stroke="#7a8e9a" stroke-width="1.1"/>
<line x1="261.4" y1="460.9" x2="306.0" y2="460.9" stroke="#b5d6e2" stroke-width="1.1"/>
<line x1="306.5" y1="464.5" x2="329.5" y2="464.5" stroke="#7a8e9a" stroke-width="1.1"/>
<line x1="329.5" y1="460.9" x2="351.4" y2="460.9" stroke="#a9cedb" stroke-width="1.1"/>
<line x1="351.8" y1="464.5" x2="374.5" y2="464.5" stroke="#7a8e9a" stroke-width="1.1"/>
<line x1="375.5" y1="460.9" x2="392.7" y2="460.9" stroke="#e3ae45" stroke-width="1.2"/>
<line x1="399.0" y1="465.0" x2="421.0" y2="465.0" stroke="#e8b552" stroke-width="1.1"/>
<line x1="421.8" y1="460.9" x2="442.5" y2="460.9" stroke="#e3ae45" stroke-width="1.2"/>
<line x1="443.2" y1="465.4" x2="488.6" y2="465.4" stroke="#e8b552" stroke-width="1.1"/>
<line x1="488.6" y1="461.1" x2="535.5" y2="461.1" stroke="#e6a935" stroke-width="1.3"/>
<text x="62.8" y="468.5" text-anchor="middle" font-size="6.45" fill="#1a1a1a" stroke="#1a1a1a" stroke-width="0.15">Madeira</text>
<text x="109.0" y="471.0" text-anchor="middle" font-size="6.45" fill="#1a1a1a" stroke="#1a1a1a" stroke-width="0.15">Azores</text>
<text x="152.3" y="468.7" text-anchor="middle" font-size="6.45" fill="#1a1a1a" stroke="#1a1a1a" stroke-width="0.15">Canary</text>
<text x="152.3" y="480.4" text-anchor="middle" font-size="6.45" fill="#1a1a1a" stroke="#1a1a1a" stroke-width="0.15">Islands</text>
<text x="214.5" y="468.7" text-anchor="middle" font-size="6.45" fill="#1a1a1a" stroke="#1a1a1a" stroke-width="0.15">Bay Biscay C</text>
<text x="283.0" y="469.1" text-anchor="middle" font-size="6.45" fill="#1a1a1a" stroke="#1a1a1a" stroke-width="0.15">Iberia NW</text>
<text x="409.1" y="473.5" text-anchor="middle" font-size="6.45" fill="#1a1a1a" stroke="#1a1a1a" stroke-width="0.15">Gulf of Lion</text>
<text x="466.3" y="473.2" text-anchor="middle" font-size="6.45" fill="#1a1a1a" stroke="#1a1a1a" stroke-width="0.15">Adriatic Sea</text>
<text x="512.3" y="468.4" text-anchor="middle" font-size="6.45" fill="#1a1a1a" stroke="#1a1a1a" stroke-width="0.15">Aegean Sea</text>
<text transform="translate(188.0 467.7) rotate(-90)" text-anchor="end" font-size="6.45" fill="#1a1a1a" stroke="#1a1a1a" stroke-width="0.15">Bretagne</text>
<text transform="translate(250.7 467.7) rotate(-90)" text-anchor="end" font-size="6.45" fill="#1a1a1a" stroke="#1a1a1a" stroke-width="0.15">Bay Biscay S</text>
<text transform="translate(319.7 466.8) rotate(-90)" text-anchor="end" font-size="6.45" fill="#1a1a1a" stroke="#1a1a1a" stroke-width="0.15">Gulf of Cadiz</text>
<text transform="translate(342.0 462.6) rotate(-90)" text-anchor="end" font-size="6.45" fill="#1a1a1a" stroke="#1a1a1a" stroke-width="0.15">Morocco</text>
<text transform="translate(366.1 466.8) rotate(-90)" text-anchor="end" font-size="6.45" fill="#1a1a1a" stroke="#1a1a1a" stroke-width="0.15">Alboran Sea</text>
<text transform="translate(388.9 465.0) rotate(-90)" text-anchor="end" font-size="6.45" fill="#1a1a1a" stroke="#1a1a1a" stroke-width="0.15">Mar Menor</text>
<text transform="translate(435.4 464.3) rotate(-90)" text-anchor="end" font-size="6.45" fill="#1a1a1a" stroke="#1a1a1a" stroke-width="0.15">Tunisia</text>
<line x1="374.9" y1="509.5" x2="374.9" y2="470" stroke="#666" stroke-width="0.8"/>
<path d="M372.6,473.5 L374.9,468.4 L377.2,473.5" fill="none" stroke="#666" stroke-width="0.8"/>
<text x="375.9" y="518.2" text-anchor="middle" font-size="8.8" fill="#666" stroke="#666" stroke-width="0.2">Almeria-Oran</text>
<text x="375.9" y="529.3" text-anchor="middle" font-size="8.8" fill="#666" stroke="#666" stroke-width="0.2">front</text>
</svg>
</body></html>
